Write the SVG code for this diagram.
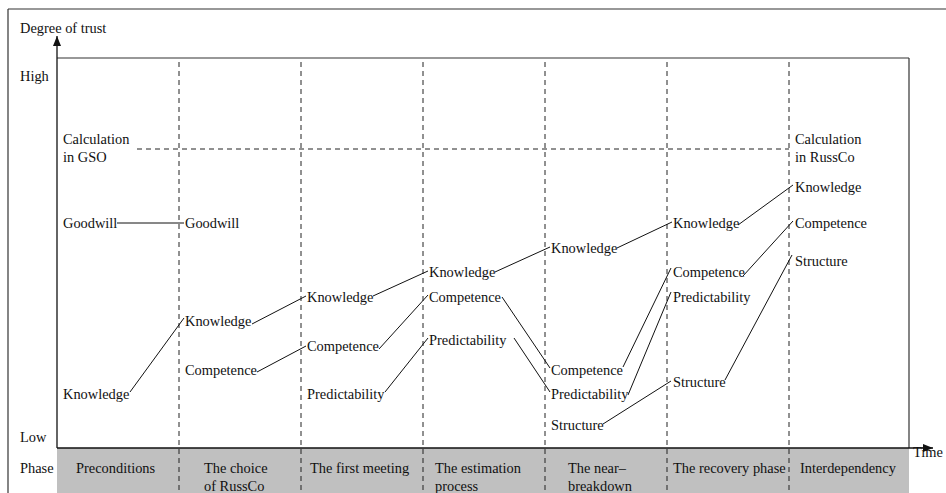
<svg xmlns="http://www.w3.org/2000/svg" width="946" height="493" viewBox="0 0 946 493">
  <style>
    text { font-family: "Liberation Serif", "Times New Roman", serif; font-size: 14.4px; fill: #111; }
    .frame { stroke: #333; stroke-width: 1.2; fill: none; }
    .axis { stroke: #111; stroke-width: 1.3; fill: none; }
    .grid { stroke: #222; stroke-width: 1; stroke-dasharray: 5 4; fill: none; }
    .link { stroke: #111; stroke-width: 1; fill: none; }
  </style>
  <defs>
    <marker id="arrow" viewBox="0 0 10 8" refX="10" refY="4" markerWidth="10" markerHeight="8" markerUnits="userSpaceOnUse" orient="auto">
      <path d="M0,0 L10,4 L0,8 z" fill="#111"/>
    </marker>
  </defs>

  <!-- phase band -->
  <rect x="57" y="448" width="852" height="45" fill="#c0c0c0"/>

  <!-- outer and plot frames -->
  <g id="frame">
    <line class="frame" x1="8" y1="9" x2="946" y2="9"/>
    <line class="frame" x1="8" y1="9" x2="8" y2="493"/>
    <line class="frame" x1="57" y1="58" x2="909" y2="58"/>
    <line class="frame" x1="909" y1="58" x2="909" y2="448"/>
  </g>

  <!-- phase separators and calculation threshold -->
  <g id="grid">
    <line class="grid" x1="179" y1="62" x2="179" y2="493"/>
    <line class="grid" x1="301" y1="62" x2="301" y2="493"/>
    <line class="grid" x1="423" y1="62" x2="423" y2="493"/>
    <line class="grid" x1="545" y1="62" x2="545" y2="493"/>
    <line class="grid" x1="667" y1="62" x2="667" y2="493"/>
    <line class="grid" x1="789" y1="62" x2="789" y2="493"/>
    <line class="grid" x1="137" y1="149" x2="789" y2="149"/>
  </g>

  <!-- axes -->
  <g id="axes">
    <line class="axis" x1="57" y1="448" x2="57" y2="36" marker-end="url(#arrow)"/>
    <line class="axis" x1="57" y1="448" x2="933" y2="448" marker-end="url(#arrow)"/>
    <text x="20" y="33">Degree of trust</text>
    <text x="20" y="81">High</text>
    <text x="20" y="442">Low</text>
    <text x="20" y="473">Phase</text>
    <text x="913" y="457">Time</text>
  </g>

  <!-- phase names -->
  <g id="phases">
    <text x="76" y="473">Preconditions</text>
    <text x="204" y="473">The choice</text>
    <text x="204" y="491">of RussCo</text>
    <text x="310" y="473">The first meeting</text>
    <text x="435" y="473">The estimation</text>
    <text x="435" y="491">process</text>
    <text x="568" y="473">The near–</text>
    <text x="568" y="491">breakdown</text>
    <text x="673" y="473">The recovery phase</text>
    <text x="800" y="473">Interdependency</text>
  </g>

  <!-- phase 1: preconditions -->
  <g id="p1-calculation"><text x="63" y="144">Calculation</text><text x="63" y="162">in GSO</text></g>
  <g id="p1-goodwill"><text x="63" y="228">Goodwill</text></g>
  <g id="p1-knowledge"><text x="63" y="399">Knowledge</text></g>

  <!-- phase 2: choice of RussCo -->
  <g id="p2-goodwill"><text x="185" y="228">Goodwill</text></g>
  <g id="p2-knowledge"><text x="185" y="326">Knowledge</text></g>
  <g id="p2-competence"><text x="185" y="375">Competence</text></g>

  <!-- phase 3: first meeting -->
  <g id="p3-knowledge"><text x="307" y="302">Knowledge</text></g>
  <g id="p3-competence"><text x="307" y="351">Competence</text></g>
  <g id="p3-predictability"><text x="307" y="399">Predictability</text></g>

  <!-- phase 4: estimation process -->
  <g id="p4-knowledge"><text x="429" y="277">Knowledge</text></g>
  <g id="p4-competence"><text x="429" y="302">Competence</text></g>
  <g id="p4-predictability"><text x="429" y="345">Predictability</text></g>

  <!-- phase 5: near-breakdown -->
  <g id="p5-knowledge"><text x="551" y="253">Knowledge</text></g>
  <g id="p5-competence"><text x="551" y="375">Competence</text></g>
  <g id="p5-predictability"><text x="551" y="399">Predictability</text></g>
  <g id="p5-structure"><text x="551" y="430">Structure</text></g>

  <!-- phase 6: recovery -->
  <g id="p6-knowledge"><text x="673" y="228">Knowledge</text></g>
  <g id="p6-competence"><text x="673" y="277">Competence</text></g>
  <g id="p6-predictability"><text x="673" y="302">Predictability</text></g>
  <g id="p6-structure"><text x="673" y="387">Structure</text></g>

  <!-- phase 7: interdependency -->
  <g id="p7-calculation"><text x="795" y="144">Calculation</text><text x="795" y="162">in RussCo</text></g>
  <g id="p7-knowledge"><text x="795" y="192">Knowledge</text></g>
  <g id="p7-competence"><text x="795" y="228">Competence</text></g>
  <g id="p7-structure"><text x="795" y="266">Structure</text></g>

  <!-- trust development links -->
  <g id="connectors">
    <line class="link" x1="117" y1="223" x2="184" y2="223"/>
    <line class="link" x1="130" y1="392" x2="184" y2="318"/>
    <line class="link" x1="252" y1="324" x2="306" y2="296"/>
    <line class="link" x1="257" y1="372" x2="306" y2="346"/>
    <line class="link" x1="373" y1="296" x2="428" y2="271"/>
    <line class="link" x1="379" y1="349" x2="428" y2="295"/>
    <line class="link" x1="385" y1="392" x2="428" y2="338"/>
    <line class="link" x1="495" y1="272" x2="550" y2="247"/>
    <line class="link" x1="502" y1="297" x2="550" y2="368"/>
    <line class="link" x1="514" y1="338" x2="550" y2="392"/>
    <line class="link" x1="617" y1="248" x2="672" y2="222"/>
    <line class="link" x1="623" y1="367" x2="671" y2="268"/>
    <line class="link" x1="628" y1="395" x2="671" y2="292"/>
    <line class="link" x1="603" y1="424" x2="671" y2="381"/>
    <line class="link" x1="738" y1="225" x2="793" y2="185"/>
    <line class="link" x1="743" y1="276" x2="793" y2="221"/>
    <line class="link" x1="725" y1="380" x2="792" y2="255"/>
  </g>
</svg>
